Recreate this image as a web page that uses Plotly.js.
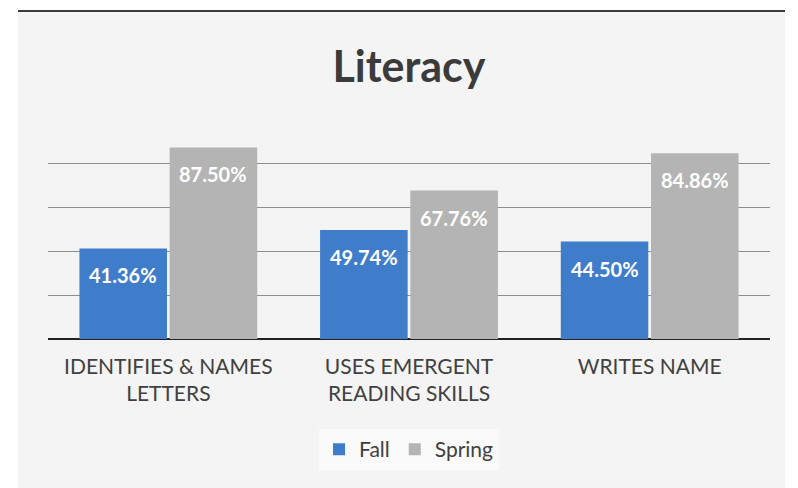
<!DOCTYPE html>
<html>
<head>
<meta charset="utf-8">
<script src="https://cdn.plot.ly/plotly-3.0.1.min.js"></script>
<style>
  html, body { margin: 0; padding: 0; background: #ffffff; width: 798px; height: 488px; overflow: hidden; }
  #wrap { position: absolute; left: 18px; top: 10px; width: 767px; height: 478px; border-top: 2px solid #3a3a3a; box-sizing: border-box; }
  #chart { width: 767px; height: 476px; }
</style>
</head>
<body>
<div id="wrap"><div id="chart"></div></div>
<script>
const categories = ["IDENTIFIES & NAMES<br>LETTERS", "USES EMERGENT<br>READING SKILLS", "WRITES NAME"];
const fallValues = [41.36, 49.74, 44.50];
const springValues = [87.50, 67.76, 84.86];
const seriesNames = ["Fall", "Spring"];

const blue = "#3f7dcb";
const gray = "#b4b4b4";

const traces = [
  { type: "bar", name: seriesNames[0], x: categories, y: fallValues, marker: { color: blue }, hoverinfo: "none" },
  { type: "bar", name: seriesNames[1], x: categories, y: springValues, marker: { color: gray }, hoverinfo: "none" }
];

const annotations = [];
[fallValues, springValues].forEach((vals, si) => {
  vals.forEach((v, i) => {
    annotations.push({
      x: categories[i], y: v, xref: "x", yref: "y",
      text: v.toFixed(2) + "%", showarrow: false,
      xshift: si === 0 ? -45 : 45, yshift: -27,
      font: { family: "Lato", size: 20, color: "#ffffff", weight: "bold" }
    });
  });
});

const layout = {
  width: 767, height: 476,
  paper_bgcolor: "#f4f4f4",
  plot_bgcolor: "rgba(0,0,0,0)",
  margin: { l: 30, r: 15, t: 108, b: 149 },
  title: { text: "<b>Literacy</b>", x: 0.5, xanchor: "center", xref: "paper", y: 0.885, yanchor: "middle", yref: "container",
           font: { family: "Lato", size: 43, color: "#3b3b3b" } },
  barmode: "group",
  bargap: 0.25,
  bargroupgap: 0.03,
  showlegend: true,
  legend: { orientation: "h", x: 0.5, xanchor: "center", y: -0.505, yanchor: "middle",
            font: { family: "Lato", size: 21, color: "#404040" }, bgcolor: "rgba(255,255,255,0.5)", itemwidth: 30, traceorder: "normal" },
  xaxis: { type: "category", showgrid: false, zeroline: false, showline: false, ticks: "",
           tickfont: { family: "Lato", size: 21, color: "#404040" }, ticklabelstandoff: 13 },
  yaxis: { range: [0, 100], dtick: 20, showticklabels: false, showgrid: true, gridcolor: "#8c8c8c", gridwidth: 1,
           zeroline: true, zerolinecolor: "#222222", zerolinewidth: 2, showline: false, ticks: "" },
  annotations: annotations
};

Plotly.newPlot("chart", traces, layout, { staticPlot: true, displayModeBar: false });
</script>
</body>
</html>
